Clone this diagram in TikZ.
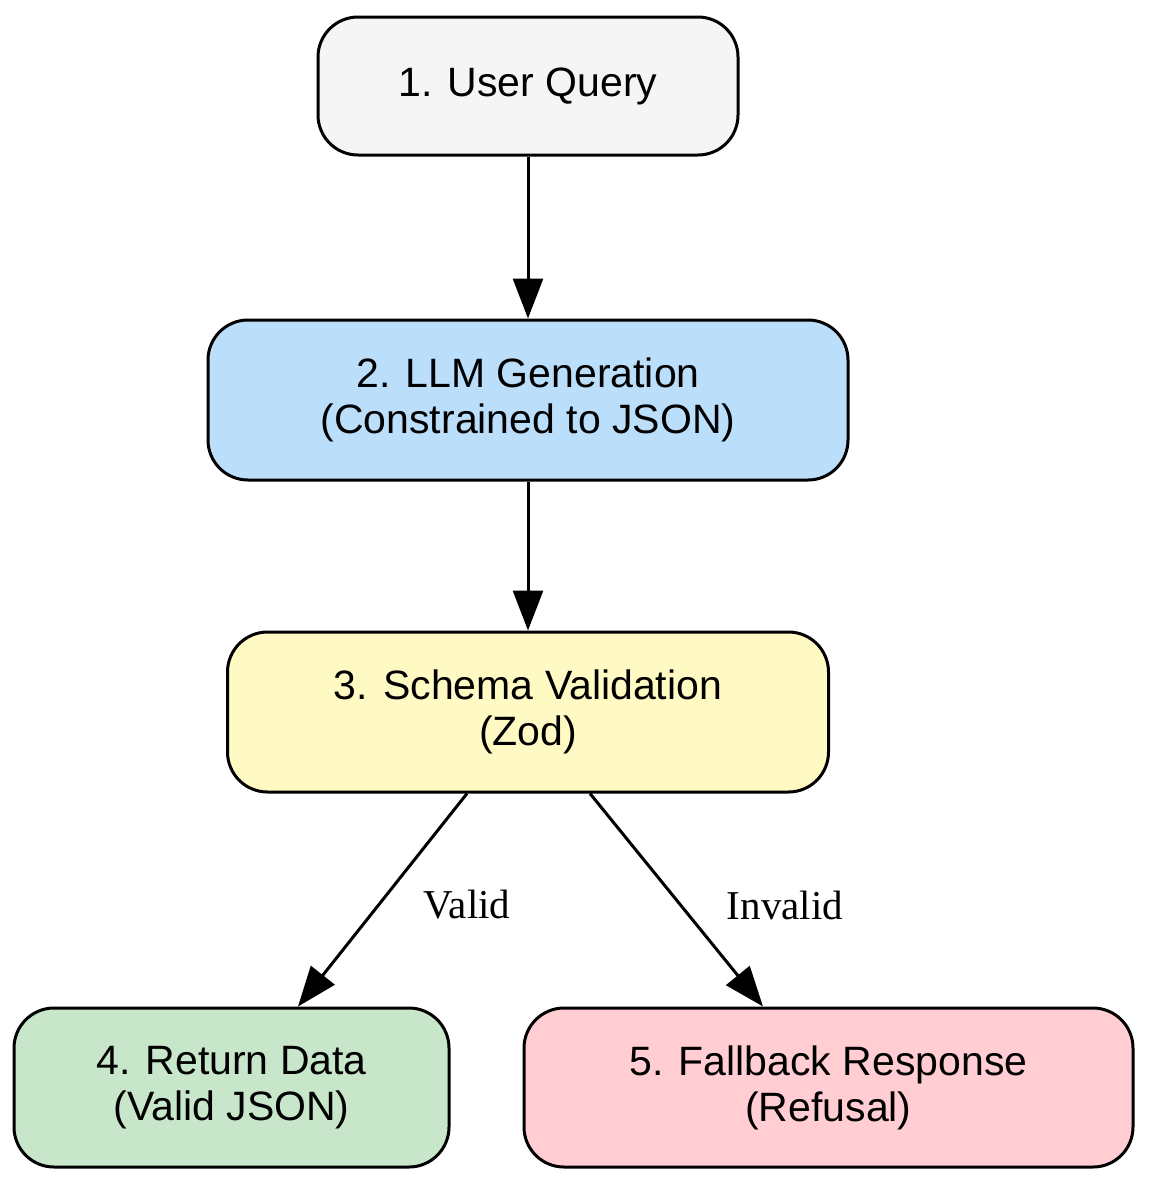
\documentclass[tikz,border=0pt]{standalone}
\usepackage{fontspec}
\setmainfont{Liberation Sans}
\newfontfamily\lblfont{Liberation Serif}
\usetikzlibrary{arrows.meta}
\definecolor{c1}{HTML}{F5F5F5}
\definecolor{c2}{HTML}{BBDEFB}
\definecolor{c3}{HTML}{FFF9C4}
\definecolor{c4}{HTML}{C8E6C9}
\definecolor{c5}{HTML}{FFCDD2}
\begin{document}
\begin{tikzpicture}[x=0.5pt,y=-0.5pt,
  box/.style={draw=black,line width=1.5pt,rounded corners=20pt,align=center,inner sep=0pt,
    font=\fontsize{20.5}{23}\selectfont},
  arr/.style={line width=1.5pt,-{Triangle[length=20pt,width=15pt]}},
  lbl/.style={font=\lblfont\fontsize{20.5}{23}\selectfont}]
\useasboundingbox (0,0) rectangle (1149,1185);
\node[box,fill=c1,minimum width=210pt,minimum height=69pt] (n1) at (528,86) {1. User Query};
\node[box,fill=c2,minimum width=320pt,minimum height=80pt] (n2) at (528,400) {2. LLM Generation\\(Constrained to JSON)};
\node[box,fill=c3,minimum width=300.5pt,minimum height=80pt] (n3) at (528,712) {3. Schema Validation\\(Zod)};
\node[box,fill=c4,minimum width=217.5pt,minimum height=79.5pt] (n4) at (231.5,1087.5) {4. Return Data\\(Valid JSON)};
\node[box,fill=c5,minimum width=304.5pt,minimum height=79.5pt] (n5) at (828.5,1087.5) {5. Fallback Response\\(Refusal)};
\draw[arr] (n1) -- (n2);
\draw[arr] (n2) -- (n3);
\draw[arr] (n3.south -| 467,0) -- (n4.north -| 298,0);
\draw[arr] (n3.south -| 590,0) -- (n5.north -| 763,0);
\node[lbl] (v) at (467,905) {Valid};
\node[lbl] (iv) at (785,905) {Invalid};
\end{tikzpicture}
\end{document}
